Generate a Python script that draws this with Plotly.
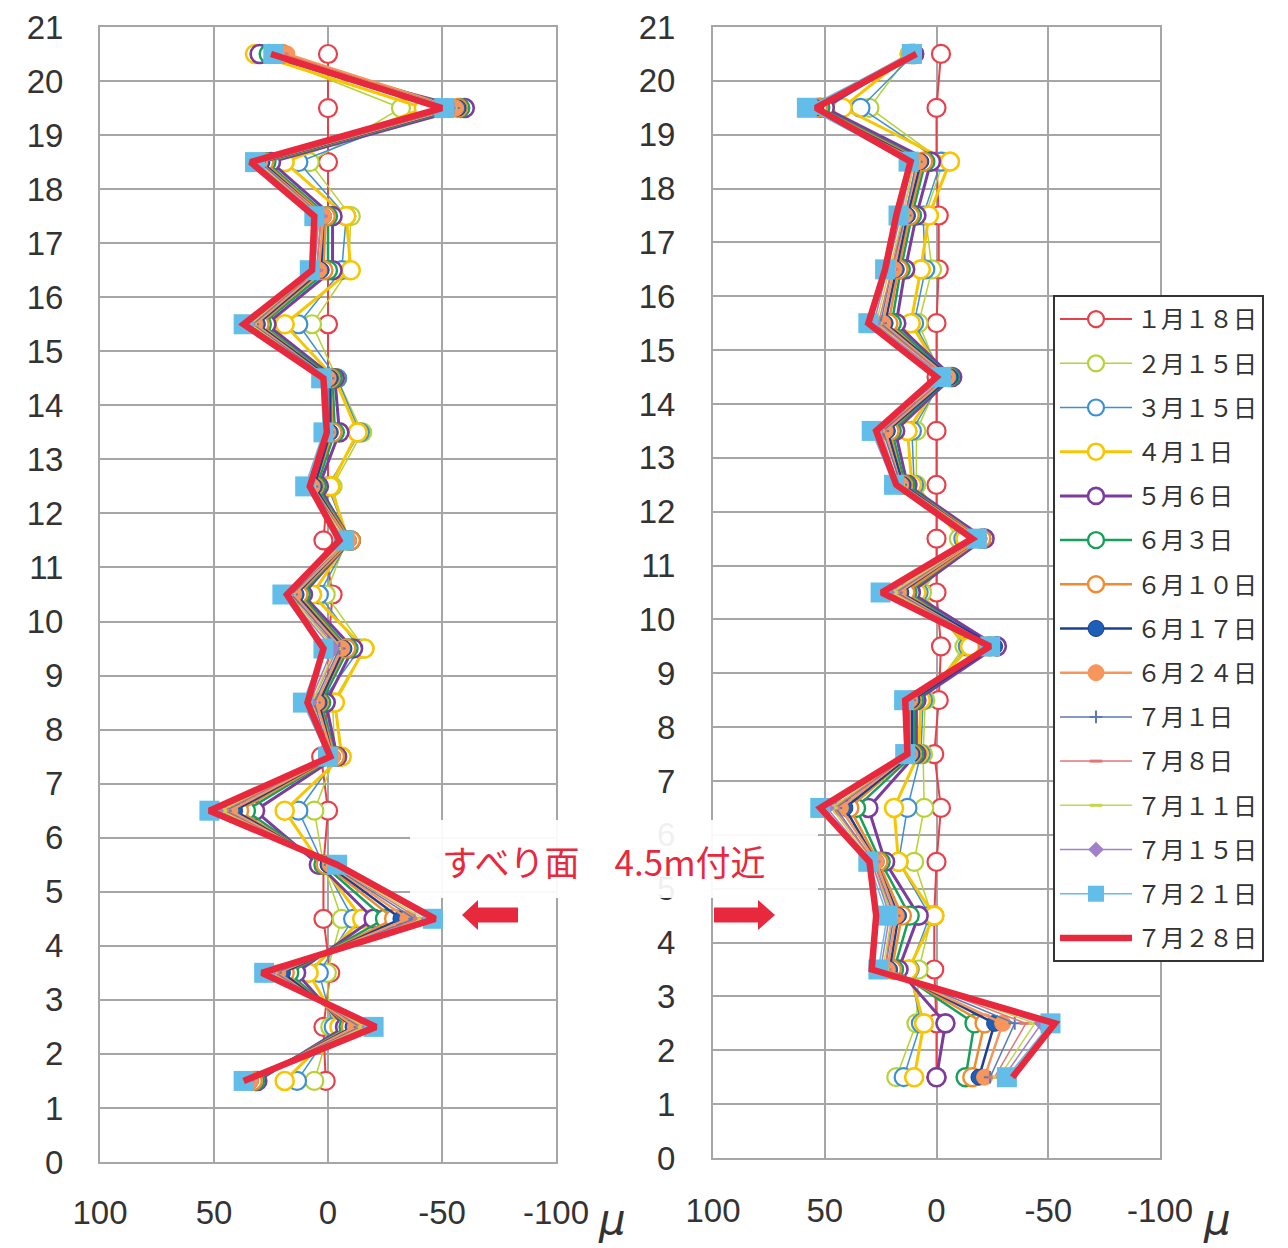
import plotly.graph_objects as go

# ---------------- data ----------------
depth = [20.5, 19.5, 18.5, 17.5, 16.5, 15.5, 14.5, 13.5, 12.5, 11.5,
         10.5, 9.5, 8.5, 7.5, 6.5, 5.5, 4.5, 3.5, 2.5, 1.5]

series_names = ["１月１８日", "２月１５日", "３月１５日", "４月１日", "５月６日",
                "６月３日", "６月１０日", "６月１７日", "６月２４日", "７月１日",
                "７月８日", "７月１１日", "７月１５日", "７月２１日", "７月２８日"]

# left borehole
L_0118 = [0, 0, 0, 0, 0, 0, 0, 0, 0, 2, -2, 0, 0, 3, 0, 2, 2, -1, 2, 1]
L_0215 = [28, -32, 8, -10, -9, 7, -4, -15, -2, -8, 1, -16, -2, -3, 6, 2, -6, 0.5, -1, 6]
L_0315 = [30, -48, 13, -8, -6, 13, -4, -14, 0, -9, 4, -14, 3, -4, 13, 2, -11, 4, -2.5, 13.6]
L_0401 = [32, -42, 19, -8, -10, 19, -3, -13, -1, -9, 7, -16, -3, -6, 19, 3, -15, 8.5, -5, 19]
L_0506 = [30, -60, 25, -2, -2, 27, -3, -5, 4, -10, 11, -11, 1, -4, 32, 4, -20, 14, -7.5, 31]
L_0603 = [26, -58, 27, 0, 0, 29, -2, -3, 5, -10, 12, -9, 3, -3, 36, 2, -25, 17, -9, 32]
L_0610 = [20, -57, 28, 1, 2, 30, -1, -2, 6, -10, 13, -8, 4, -3, 39, 1, -29, 19, -10, 33]
L_0617 = [22, -57, 29, 2, 3, 31, -1, -1, 6, -9, 14, -7, 4, -2, 41, 0, -32, 20, -11, 34]
L_0624 = [18, -56, 30, 2, 4, 32, 0, 0, 7, -9, 15, -6, 5, -2, 43, -1, -35, 22, -12, 34]
L_0701 = [22, -55, 30, 3, 5, 33, 0, 0, 7, -8, 16, -5, 6, -1, 45, -1, -38, 23, -14, 35]
L_0708 = [20, -54, 31, 3, 5, 34, 1, 1, 8, -8, 17, -4, 7, -1, 46, -2, -40, 24, -15, 35]
L_0711 = [22, -54, 31, 4, 6, 34, 1, 1, 8, -8, 17, -3, 7, 0, 47, -2, -42, 25, -16, 36]
L_0715 = [23, -53, 32, 4, 6, 35, 2, 1, 9, -7, 18, -2, 8, 0, 49, -3, -44, 26, -18, 36]
L_0721 = [24, -51, 32, 6, 8, 37, 3, 2, 10, -7, 20, 2, 11, 0, 52, -4, -46, 28, -20, 37]
L_0728 = [25, -50, 34, 6, 7, 37, 2, 0.5, 8, -5, 18, 2, 9, -1, 52, -4, -47, 29, -21, 37]

# right borehole
R_0118 = [-2, 0, 0, -1, -1, 0, 0, 0, 0, 0, 0, -2, -1, 1, -2, 0, 1, 1, 0, 0]
R_0215 = [12, 30, -3, 5, 2, 8, -2, 9, 9, -10, 6.5, -12.5, 5, 6, 5.5, 10, 2, 8, 9, 18]
R_0315 = [10, 34, -2, 6, 5, 10, -3, 11, 10, -12, 8, -14, 6, 7, 13, 17, 3, 12, 7, 14.7]
R_0401 = [12, 42, -6, 3.4, 7, 11.5, -3, 13, 11, -13, 9, -15, 7, 8, 19, 17, 1, 12.5, 5.6, 10]
R_0506 = [10, 50, 2.5, 9, 14, 18, -7, 18.5, 13, -21.5, 11.5, -27, 9, 9, 30.5, 23, 8, 17, -4, 0]
R_0603 = [11, 52, 5, 11, 16, 20, -6, 20, 14, -20, 13, -24, 10, 10, 36, 25, 12, 19, -17, -13]
R_0610 = [11, 53, 6, 12, 17, 21.5, -5, 21, 15, -20, 14, -23, 11, 11, 39, 26, 15.5, 20, -21.5, -16]
R_0617 = [11, 54, 7, 13, 18, 23, -6, 22, 15, -19, 16, -26, 11, 11, 41, 27, 17, 21, -26, -19]
R_0624 = [12, 55, 8, 14, 19, 24, -5, 23, 16, -19, 17, -24, 12, 12, 43, 27, 18, 22, -29.6, -21.5]
R_0701 = [11, 56, 9, 14, 20, 25, -4, 24, 16, -18, 18, -24, 12, 12, 45, 28, 19, 23, -35, -24]
R_0708 = [11, 56, 10, 15, 20, 26, -4, 25, 17, -18, 19, -24, 13, 12, 46, 28, 20, 23, -40, -26]
R_0711 = [12, 57, 10, 15, 21, 27, -3, 26, 17, -18, 20, -24, 13, 13, 47, 29, 20, 24, -44, -28]
R_0715 = [12, 57, 11, 16, 22, 28, -3, 27, 18, -18, 22, -25, 13, 13, 49, 29, 21, 25, -47, -30]
R_0721 = [11, 58, 12.5, 17, 23, 30.5, -2, 29, 19, -18, 25, -24, 14.5, 14, 52, 30.5, 22, 26, -51, -31.5]
R_0728 = [9, 54, 11.6, 18, 23, 30.5, 0, 27, 18, -16, 24.5, -24, 14, 13, 52, 30, 27, 29, -53, -34]

x_tickvals = [100, 50, 0, -50, -100]
x_ticktext = ["100", "50", "0", "-50", "-100"]
y_tickvals = [0, 1, 2, 3, 4, 5, 6, 7, 8, 9, 10, 11, 12, 13, 14, 15, 16, 17, 18, 19, 20, 21]

left_data = [L_0118, L_0215, L_0315, L_0401, L_0506, L_0603, L_0610, L_0617,
             L_0624, L_0701, L_0708, L_0711, L_0715, L_0721, L_0728]
right_data = [R_0118, R_0215, R_0315, R_0401, R_0506, R_0603, R_0610, R_0617,
              R_0624, R_0701, R_0708, R_0711, R_0715, R_0721, R_0728]

# ---------------- styles ----------------
styles = [
    dict(c="#e8404a", lw=2.0, sym="circle", size=18, fill="white", mlw=2.2),
    dict(c="#b5d334", lw=1.5, sym="circle", size=18, fill="white", mlw=2.2),
    dict(c="#3d8fd6", lw=1.5, sym="circle", size=18, fill="white", mlw=2.2),
    dict(c="#f7c600", lw=3.0, sym="circle", size=18, fill="white", mlw=2.6),
    dict(c="#7b3c9d", lw=3.0, sym="circle", size=18, fill="white", mlw=2.6),
    dict(c="#16a05a", lw=2.5, sym="circle", size=18, fill="white", mlw=2.4),
    dict(c="#f08c2c", lw=2.5, sym="circle", size=18, fill="white", mlw=2.4),
    dict(c="#1d3f94", lw=2.5, sym="circle", size=16, fill="#1d5fb4", mlw=1),
    dict(c="#f7955a", lw=2.5, sym="circle", size=16, fill="#f7955a", mlw=1),
    dict(c="#5a7ab4", lw=1.5, sym="cross-thin", size=9, fill="#5a7ab4", mlw=2),
    dict(c="#e07878", lw=1.5, sym="line-ew", size=9, fill="#e07878", mlw=3),
    dict(c="#c5d64e", lw=1.5, sym="line-ew", size=9, fill="#c5d64e", mlw=3),
    dict(c="#a27fc9", lw=1.5, sym="diamond", size=12, fill="#a27fc9", mlw=0),
    dict(c="#62bde9", lw=1.5, sym="square", size=20, fill="#62bde9", mlw=0),
    dict(c="#e8283c", lw=6.5, sym=None, size=0, fill=None, mlw=0),
]

fig = go.Figure()

for i, name in enumerate(series_names):
    st = styles[i]
    for side, data in (("L", left_data[i]), ("R", right_data[i])):
        if st["sym"] is None:
            mode = "lines"
            marker = None
        else:
            mode = "lines+markers"
            marker = dict(symbol=st["sym"], size=st["size"], color=st["fill"],
                          line=dict(color=st["c"], width=st["mlw"]))
        fig.add_trace(go.Scatter(
            x=data, y=depth, mode=mode, name=name,
            line=dict(color=st["c"], width=st["lw"]),
            marker=marker,
            legendgroup=name,
            showlegend=(side == "R"),
            xaxis="x" if side == "L" else "x2",
            yaxis="y" if side == "L" else "y2",
            hoverinfo="skip",
        ))

# ---------------- layout ----------------
W, H = 1280, 1240
OFF = 8  # default page body margin


def px(x):
    return (x - OFF) / W


def py(y):
    return 1 - (y - OFF) / H


tickfont = dict(family="Liberation Sans, Arial, sans-serif", size=33, color="#333333")
grid = dict(showgrid=True, gridcolor="#a6a6a6", gridwidth=2,
            showline=True, linecolor="#a6a6a6", linewidth=2, mirror=True,
            zeroline=False, ticks="", tickfont=tickfont, automargin=False)

fig.update_layout(
    width=W, height=H, autosize=False,
    margin=dict(l=0, r=0, t=0, b=0, pad=0),
    paper_bgcolor="white", plot_bgcolor="white",
    xaxis=dict(domain=[px(100), px(556)], range=[100, -100],
               tickmode="array", tickvals=x_tickvals, ticktext=x_ticktext,
               anchor="y", ticklabelstandoff=20, **grid),
    yaxis=dict(domain=[py(1162), py(27)], range=[0, 21],
               tickmode="array", tickvals=y_tickvals,
               anchor="x", ticklabelstandoff=28, **grid),
    xaxis2=dict(domain=[px(713), px(1160)], range=[100, -100],
                tickmode="array", tickvals=x_tickvals, ticktext=x_ticktext,
                anchor="y2", ticklabelstandoff=22, **grid),
    yaxis2=dict(domain=[py(1158), py(27)], range=[0, 21],
                tickmode="array", tickvals=y_tickvals,
                anchor="x2", ticklabelstandoff=29, **grid),
    legend=dict(
        x=px(1053), y=py(295), xanchor="left", yanchor="top",
        bgcolor="white", bordercolor="#333333", borderwidth=2,
        font=dict(family="Noto Sans CJK JP", size=24, color="#333333"),
        itemwidth=72, traceorder="grouped", tracegroupgap=10,
        itemsizing="trace",
    ),
    showlegend=True,
)

# white patch behind the annotation text
fig.add_shape(type="rect", xref="paper", yref="paper",
              x0=px(410), x1=px(818), y0=py(898), y1=py(820),
              fillcolor="white", opacity=0.93, line=dict(width=0), layer="above")


def arrow_path(tail, tip, yc, head_base, hh=15, sh=7.5):
    pts = [(tail, yc - sh), (head_base, yc - sh), (head_base, yc - hh), (tip, yc),
           (head_base, yc + hh), (head_base, yc + sh), (tail, yc + sh)]
    return "M " + " L ".join(f"{px(a):.5f},{py(b):.5f}" for a, b in pts) + " Z"


fig.add_shape(type="path", xref="paper", yref="paper",
              path=arrow_path(518, 462, 915, 478),
              fillcolor="#e8283c", line=dict(width=0), layer="above")
fig.add_shape(type="path", xref="paper", yref="paper",
              path=arrow_path(714, 775, 915, 758),
              fillcolor="#e8283c", line=dict(width=0), layer="above")

fig.add_annotation(text="すべり面　4.5m付近", xref="paper", yref="paper",
                   x=px(604), y=py(860), xanchor="center", yanchor="middle",
                   showarrow=False,
                   font=dict(family="Noto Sans CJK JP", size=35, color="#e8283c"))

for xx in (612, 1217):
    fig.add_annotation(text="<i>μ</i>", xref="paper", yref="paper",
                       x=px(xx), y=py(1219), xanchor="center", yanchor="middle",
                       showarrow=False,
                       font=dict(family="DejaVu Sans", size=42, color="#333333"))

fig.write_html("out.html")
